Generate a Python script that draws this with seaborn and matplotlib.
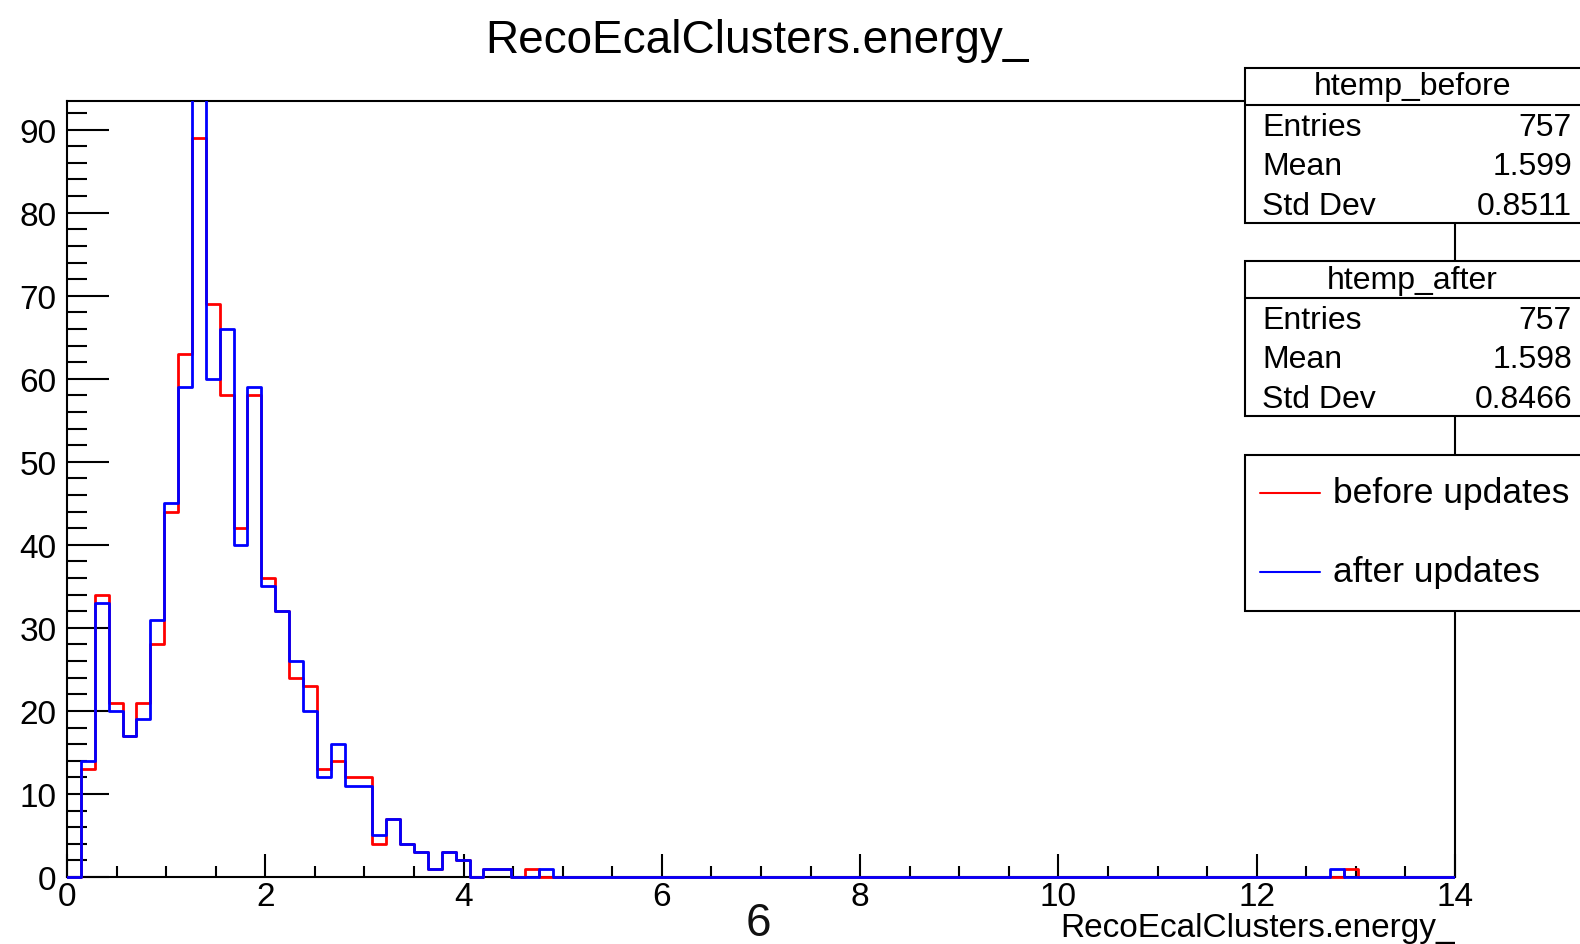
import numpy as np
import pandas as pd
import matplotlib
matplotlib.use('Agg')
import matplotlib.pyplot as plt
from matplotlib.patches import Rectangle
from matplotlib.lines import Line2D
from matplotlib.ticker import MultipleLocator
from matplotlib.transforms import Bbox, TransformedBbox
import seaborn as sns

# ─────────────────────────────────────────
# data: 100 bins of 0.14 from 0 to 14
# ─────────────────────────────────────────
bin_edges = np.linspace(0, 14, 101)

before_counts = [
    0, 13, 34, 21, 17, 21, 28, 44, 63, 89,
    69, 58, 42, 58, 36, 32, 24, 23, 13, 14,
    12, 12, 4, 7, 4, 3, 1, 3, 2, 0,
    1, 1, 0, 1, 0, 0, 0, 0, 0, 0,
    0, 0, 0, 0, 0, 0, 0, 0, 0, 0,
    0, 0, 0, 0, 0, 0, 0, 0, 0, 0,
    0, 0, 0, 0, 0, 0, 0, 0, 0, 0,
    0, 0, 0, 0, 0, 0, 0, 0, 0, 0,
    0, 0, 0, 0, 0, 0, 0, 0, 0, 0,
    0, 0, 1, 0, 0, 0, 0, 0, 0, 0,
]
after_counts = [
    0, 14, 33, 20, 17, 19, 31, 45, 59, 96,
    60, 66, 40, 59, 35, 32, 26, 20, 12, 16,
    11, 11, 5, 7, 4, 3, 1, 3, 2, 0,
    1, 1, 0, 0, 1, 0, 0, 0, 0, 0,
    0, 0, 0, 0, 0, 0, 0, 0, 0, 0,
    0, 0, 0, 0, 0, 0, 0, 0, 0, 0,
    0, 0, 0, 0, 0, 0, 0, 0, 0, 0,
    0, 0, 0, 0, 0, 0, 0, 0, 0, 0,
    0, 0, 0, 0, 0, 0, 0, 0, 0, 0,
    0, 1, 0, 0, 0, 0, 0, 0, 0, 0,
]

stat_names = ['Entries', 'Mean', 'Std Dev']
before_stats = ['757', '1.599', '0.8511']
after_stats = ['757', '1.598', '0.8466']
series_labels = ['before updates', 'after updates']
series_colors = ['#ff0000', '#0000ff']

title_text = 'RecoEcalClusters.energy_'

centers = bin_edges[:-1] + np.diff(bin_edges) / 2
df = pd.DataFrame({
    'x': np.concatenate([centers, centers]),
    'w': before_counts + after_counts,
    'series': [series_labels[0]] * len(centers) + [series_labels[1]] * len(centers),
})

# ─────────────────────────────────────────
# figure setup (pixel helpers for a 1580x945 canvas)
# ─────────────────────────────────────────
sns.set_style('white')
plt.rcParams['font.family'] = ['Liberation Sans', 'DejaVu Sans']
plt.rcParams['text.color'] = 'black'

W, H = 1580, 945
def fx(px): return px / W
def fy(py): return 1 - py / H

fig = plt.figure(figsize=(W / 100, H / 100), dpi=100)
fig.patch.set_facecolor('white')
ax = fig.add_axes([fx(67), fy(878), fx(1455) - fx(67), fy(102) - fy(878)])

for lab, col in zip(series_labels, series_colors):
    sub = df[df['series'] == lab]
    sns.histplot(data=sub, x='x', weights='w', bins=list(bin_edges),
                 element='step', fill=False, color=col,
                 linewidth=2.0, zorder=3, ax=ax)

ax.set_xlim(0, 14)
ax.set_ylim(0, max(before_counts) * 1.05)
ax.set_xlabel('')
ax.set_ylabel('')

# let the step lines sit on top of the x axis (clip only at the top)
clip = TransformedBbox(Bbox([[0, -0.02], [1, 1]]), ax.transAxes)
for ln in ax.lines:
    ln.set_clip_box(clip)

ax.xaxis.set_major_locator(MultipleLocator(2))
ax.xaxis.set_minor_locator(MultipleLocator(0.5))
ax.yaxis.set_major_locator(MultipleLocator(10))
ax.yaxis.set_minor_locator(MultipleLocator(2))

ax.tick_params(axis='both', which='both', direction='in', colors='black',
               width=1.5, top=False, right=False, bottom=True, left=True)
ax.tick_params(axis='y', which='major', length=30, labelsize=24, pad=7.5)
ax.tick_params(axis='y', which='minor', length=14.5)
ax.tick_params(axis='x', which='major', length=16.5, labelsize=24, pad=3)
ax.tick_params(axis='x', which='minor', length=8)
for s in ax.spines.values():
    s.set_color('black')
    s.set_linewidth(1.5)

# ─────────────────────────────────────────
# titles / labels
# ─────────────────────────────────────────
fig.text(fx(757), fy(53), title_text, ha='center', va='baseline',
         fontsize=33, color='black')
fig.text(fx(1455), fy(937), title_text, ha='right', va='baseline',
         fontsize=24, color='black')
fig.text(fx(758), fy(936), '6', ha='center', va='baseline', fontsize=33,
         color='#111111')

# ─────────────────────────────────────────
# stat boxes (ROOT style)
# ─────────────────────────────────────────
BOX_L, BOX_R = 1245, 1600

def stat_box(top, name, values):
    bottom = top + 155
    fig.add_artist(Rectangle((fx(BOX_L), fy(bottom)), fx(BOX_R) - fx(BOX_L),
                             fy(top) - fy(bottom), transform=fig.transFigure,
                             facecolor='white', edgecolor='black', lw=1.5,
                             zorder=5))
    fig.add_artist(Line2D([fx(BOX_L), fx(BOX_R)], [fy(top + 37)] * 2,
                          transform=fig.transFigure, color='black', lw=1.5,
                          zorder=6))
    fig.text(fx(1412), fy(top + 18.5), name, ha='center', va='center',
             fontsize=23, zorder=7)
    for i, (k, v) in enumerate(zip(stat_names, values)):
        yy = top + 59 + i * 39.3
        fig.text(fx(1262), fy(yy), k, ha='left', va='center', fontsize=23, zorder=7)
        fig.text(fx(1572), fy(yy), v, ha='right', va='center', fontsize=23, zorder=7)

stat_box(69, 'htemp_before', before_stats)
stat_box(262, 'htemp_after', after_stats)

# legend box
fig.add_artist(Rectangle((fx(BOX_L), fy(612)), fx(BOX_R) - fx(BOX_L),
                         fy(456) - fy(612), transform=fig.transFigure,
                         facecolor='white', edgecolor='black', lw=1.5, zorder=5))
for lab, col, yy in zip(series_labels, series_colors, [494, 573]):
    fig.add_artist(Line2D([fx(1260), fx(1320)], [fy(yy)] * 2,
                          transform=fig.transFigure, color=col, lw=1.5, zorder=6))
    fig.text(fx(1333), fy(yy), lab, ha='left', va='center', fontsize=25.5, zorder=7)

fig.savefig('out.png', dpi=100, facecolor='white')
